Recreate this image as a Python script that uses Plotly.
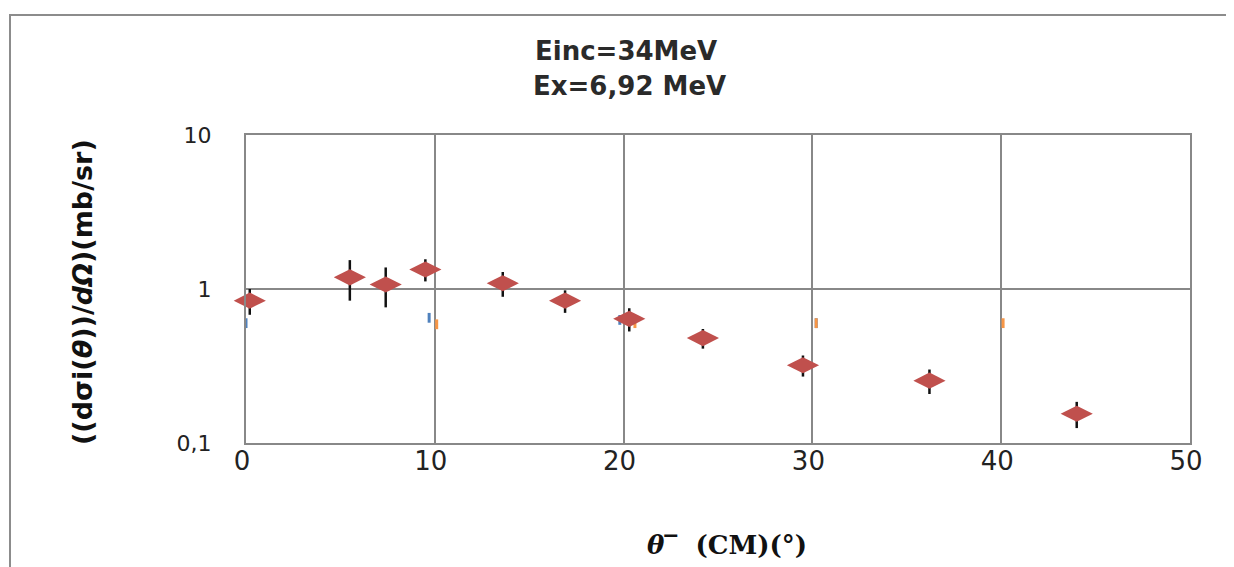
import plotly.graph_objects as go

# Measured data (red diamonds)
theta_cm = [0.2, 5.5, 7.4, 9.5, 13.6, 16.9, 20.3, 24.2, 29.5, 36.2, 44.0]
dsigma = [0.84, 1.19, 1.07, 1.34, 1.09, 0.84, 0.64, 0.48, 0.32, 0.254, 0.155]
dsigma_err = [0.16, 0.35, 0.31, 0.22, 0.20, 0.14, 0.11, 0.07, 0.05, 0.046, 0.03]

# Tiny auxiliary marks (blue / orange)
blue_x = [0.0, 9.7, 19.8, 30.2]
blue_y = [0.60, 0.65, 0.63, 0.60]
orange_x = [10.1, 20.6, 30.2, 40.1, 50.1]
orange_y = [0.59, 0.60, 0.60, 0.60, 0.60]

x_ticks = [0, 10, 20, 30, 40, 50]
y_ticks = [0.1, 1, 10]
y_ticktext = ["0,1", "1", "10"]

OFF = 8  # page body margin
W, H = 1234, 567
# desired on-screen plot box
SL, SR, ST, SB = 246, 1190, 135, 443
L = SL - OFF
T = ST - OFF
R = W - (SR - OFF)
B = H - (SB - OFF)
pw, ph = W - L - R, H - T - B

fig = go.Figure()

fig.add_trace(go.Scatter(
    x=blue_x, y=blue_y, mode="markers",
    marker=dict(symbol="line-ns", size=7, line=dict(width=3, color="#4F81BD")),
    showlegend=False, cliponaxis=False))
fig.add_trace(go.Scatter(
    x=orange_x, y=orange_y, mode="markers",
    marker=dict(symbol="line-ns", size=7, line=dict(width=3, color="#F79646")),
    showlegend=False, cliponaxis=False))

fig.add_trace(go.Scatter(
    x=theta_cm, y=dsigma, mode="markers",
    marker=dict(symbol="diamond-wide", size=23, color="#C0504D"),
    error_y=dict(type="data", array=dsigma_err, visible=True,
                 color="#111111", thickness=2.5, width=0),
    showlegend=False, cliponaxis=False))

grid = "#888888"
fig.update_xaxes(
    range=[0, 50], tickvals=x_ticks, showgrid=True, gridcolor=grid, gridwidth=2,
    showline=True, linecolor=grid, linewidth=2, mirror=True, zeroline=False,
    ticks="", ticklabelstandoff=-6, ticklabelshift=-4,
    tickfont=dict(family="DejaVu Sans", size=26, color="#222222"),
)
fig.update_yaxes(
    type="log", range=[-1, 1], tickvals=y_ticks, ticktext=y_ticktext,
    showgrid=True, gridcolor=grid, gridwidth=2,
    showline=True, linecolor=grid, linewidth=2, mirror=True, zeroline=False,
    ticks="", ticklabelstandoff=28,
    tickfont=dict(family="DejaVu Sans", size=22, color="#222222"),
)

def px(x):
    return (x - OFF - L) / pw

def py(y):
    return (H - B - (y - OFF)) / ph

def ann(text, x, y, font, **kw):
    return dict(text=text, x=px(x), y=py(y), xref="paper", yref="paper",
                xanchor="center", yanchor="middle", showarrow=False, font=font, **kw)

fig.update_layout(
    width=W, height=H,
    margin=dict(l=L, r=R, t=T, b=B),
    paper_bgcolor="white", plot_bgcolor="white",
    annotations=[
        ann("<b>Einc=34MeV</b>", 626, 51,
            dict(family="DejaVu Sans", size=26, color="#2a2a2a")),
        ann("<b>Ex=6,92 MeV</b>", 629, 86,
            dict(family="DejaVu Sans", size=26, color="#2a2a2a")),
        ann("<b>((dσi(<i>θ</i>))/<i>dΩ</i>)(mb/sr)</b>", 82, 292,
            dict(family="DejaVu Sans", size=27, color="#111111"), textangle=-90),
        ann("<b><i>θ</i>‾  (CM)(°)</b>", 727, 545,
            dict(family="DejaVu Serif", size=26, color="#111111")),
    ],
    shapes=[
        dict(type="path", xref="paper", yref="paper",
             path=f"M {px(10)} {py(620)} L {px(10)} {py(15)} L {px(1300)} {py(15)}",
             line=dict(color="#8c8c8c", width=2)),
    ],
)

fig.write_html("out.html")
